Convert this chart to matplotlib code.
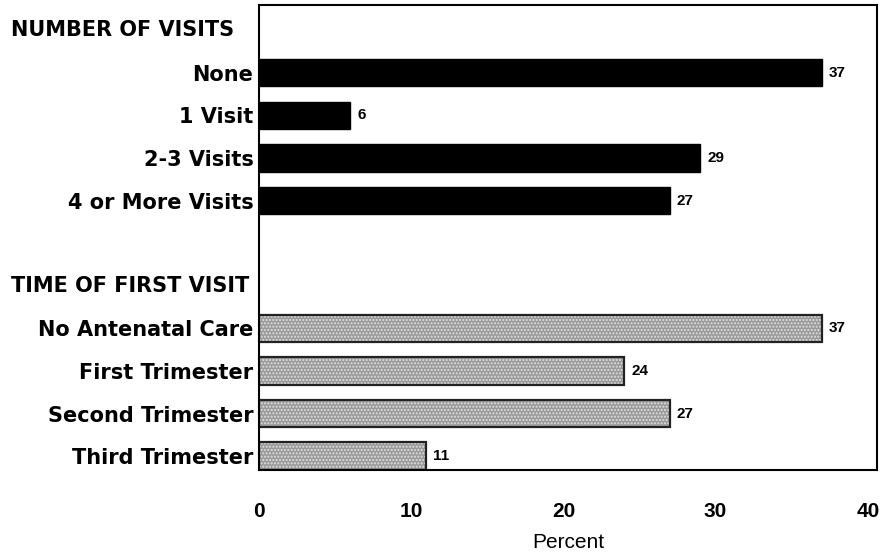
import matplotlib.pyplot as plt
import matplotlib.transforms as mtransforms

plt.rcParams['font.family'] = ['Liberation Sans', 'DejaVu Sans']

# data
visit_labels = ['None', '1 Visit', '2-3 Visits', '4 or More Visits']
visit_values = [37, 6, 29, 27]
time_labels = ['No Antenatal Care', 'First Trimester', 'Second Trimester', 'Third Trimester']
time_values = [37, 24, 27, 11]
headers = ['NUMBER OF VISITS', 'TIME OF FIRST VISIT']

visit_pos = [1, 2, 3, 4]
time_pos = [7, 8, 9, 10]
header_pos = [0, 6]

fig = plt.figure(figsize=(8.84, 5.52), dpi=100)
ax = fig.add_axes([0.293, 0.149, 0.699, 0.842])

bh = 0.64
ax.barh(visit_pos, visit_values, height=bh, color='black', edgecolor='black', linewidth=1)
# grey stippled bars
ax.barh(time_pos, time_values, height=bh, color='#9a9a9a', edgecolor='#e0e0e0',
        hatch='.....', linewidth=0)
ax.barh(time_pos, time_values, height=bh, fill=False, edgecolor='#222222', linewidth=1.6)

for p, v in zip(visit_pos + time_pos, visit_values + time_values):
    ax.text(v + 0.45, p, str(v), va='center', ha='left', fontsize=11, fontweight='bold')

ax.set_xlim(0, 40.6)
ax.set_ylim(10.32, -0.59)
ax.set_xticks([0, 10, 20, 30, 40])
ax.tick_params(axis='x', length=0, labelsize=15, pad=23)
for lbl in ax.get_xticklabels():
    lbl.set_fontweight('bold')
ax.set_yticks(visit_pos + time_pos)
ax.set_yticklabels(visit_labels + time_labels, fontweight='bold', family='DejaVu Sans')
ax.tick_params(axis='y', length=0, labelsize=15, pad=4)

trans = mtransforms.blended_transform_factory(fig.transFigure, ax.transData)
for p, h in zip(header_pos, headers):
    ax.text(0.012, p, h, transform=trans, ha='left', va='center', fontsize=15,
            fontweight='bold', family='DejaVu Sans')

for s in ax.spines.values():
    s.set_linewidth(1.5)

ax.set_xlabel('Percent', fontsize=15, labelpad=9)

fig.savefig('out.png', dpi=100)
